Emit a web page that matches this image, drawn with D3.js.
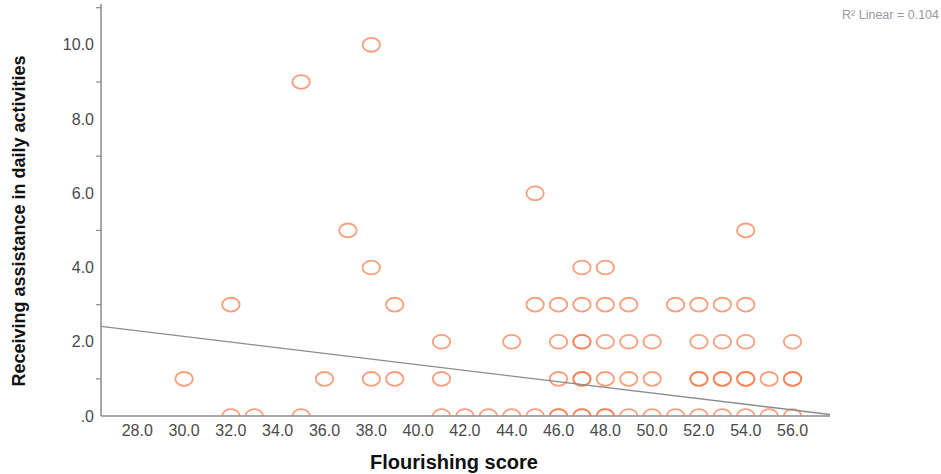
<!DOCTYPE html>
<html>
<head>
<meta charset="utf-8">
<script src="https://cdn.jsdelivr.net/npm/d3@7"></script>
<style>
  body { margin: 0; background: #fff; }
  svg { display: block; font-family: "Liberation Sans", Arial, sans-serif; }
</style>
</head>
<body>
<div id="chart"></div>
<script>
// points (repeated pairs = overlapping cases, they draw darker)
var flourishing = [30, 32, 32, 33, 35, 35, 36, 37, 38, 38, 38, 39, 39,
    41, 41, 41, 42, 43, 44, 44, 45, 45, 45,
    46, 46, 46, 46, 46, 47, 47, 47, 47, 47, 47, 47, 47,
    48, 48, 48, 48, 48, 48, 49, 49, 49, 49, 50, 50, 50,
    51, 51, 52, 52, 52, 52, 52, 53, 53, 53, 53, 53,
    54, 54, 54, 54, 54, 54, 55, 55, 56, 56, 56, 56];
var assistance = [1, 3, 0, 0, 9, 0, 1, 5, 10, 4, 1, 3, 1,
    2, 1, 0, 0, 0, 0, 2, 6, 3, 0,
    3, 2, 1, 0, 0, 4, 3, 2, 2, 1, 1, 0, 0,
    4, 3, 2, 1, 0, 0, 3, 2, 1, 0, 2, 1, 0,
    3, 0, 3, 2, 1, 1, 0, 3, 2, 1, 1, 0,
    5, 3, 2, 1, 1, 0, 1, 0, 2, 1, 1, 0];

var xTicks = [28, 30, 32, 34, 36, 38, 40, 42, 44, 46, 48, 50, 52, 54, 56];
var yTicks = [0, 2, 4, 6, 8, 10];
var yMinor = [1, 3, 5, 7, 9, 11];

// fit line as drawn in the original (y = a + b*x), R2 label
var fitIntercept = 4.43;
var fitSlope = -0.0762;
var r2Label = "R\u00b2 Linear = 0.104";

var WIDTH = 941, HEIGHT = 474;

var svg = d3.select("#chart").append("svg")
    .attr("width", WIDTH)
    .attr("height", HEIGHT);

var x = d3.scaleLinear().domain([26.45, 57.6]).range([101, 830]);
var y = d3.scaleLinear().domain([0, 11.1]).range([416, 4]);

var axisColor = "#8a8a8a";
var labelColor = "#4a4a4a";

// clip so the zero row gets cut by the x axis like in SPSS
svg.append("clipPath").attr("id", "plotclip")
  .append("rect")
    .attr("x", x.range()[0]).attr("y", 0)
    .attr("width", x.range()[1] - x.range()[0] + 10)
    .attr("height", y(0));

// y axis: minor ticks without labels, labels at even values without ticks
var yAxis = svg.append("g").attr("transform", "translate(" + x.range()[0] + ",0)");
yAxis.append("line")
    .attr("x1", 0).attr("x2", 0)
    .attr("y1", y.range()[1]).attr("y2", y(0))
    .attr("stroke", axisColor).attr("stroke-width", 1.5);
yAxis.selectAll(".minor").data(yMinor).enter().append("line")
    .attr("x1", -5).attr("x2", 0)
    .attr("y1", function(d){ return y(d); })
    .attr("y2", function(d){ return y(d); })
    .attr("stroke", axisColor).attr("stroke-width", 1.2);
yAxis.selectAll(".lab").data(yTicks).enter().append("text")
    .attr("x", -7)
    .attr("y", function(d){ return y(d); })
    .attr("dy", "0.35em")
    .attr("text-anchor", "end")
    .attr("font-size", 16)
    .attr("fill", labelColor)
    .text(function(d){ return d === 0 ? ".0" : d.toFixed(1); });

// x axis: line plus labels
var xAxis = svg.append("g").attr("transform", "translate(0," + y(0) + ")");
xAxis.append("line")
    .attr("x1", x.range()[0]).attr("x2", x.range()[1])
    .attr("y1", 0).attr("y2", 0)
    .attr("stroke", axisColor).attr("stroke-width", 1.5);
xAxis.selectAll(".lab").data(xTicks).enter().append("text")
    .attr("x", function(d){ return x(d); })
    .attr("y", 20)
    .attr("text-anchor", "middle")
    .attr("font-size", 16)
    .attr("fill", labelColor)
    .text(function(d){ return d.toFixed(1); });

// points
var pts = d3.range(flourishing.length).map(function(i){
    return {fx: flourishing[i], ay: assistance[i]};
});
svg.append("g").attr("clip-path", "url(#plotclip)")
  .selectAll("ellipse").data(pts).enter().append("ellipse")
    .attr("cx", function(d){ return x(d.fx); })
    .attr("cy", function(d){ return y(d.ay); })
    .attr("rx", 8.7)
    .attr("ry", 6.9)
    .attr("fill", "none")
    .attr("stroke", "#f47a4c")
    .attr("stroke-opacity", 0.72)
    .attr("stroke-width", 1.8);

// regression line
var xd = x.domain();
svg.append("line")
    .attr("x1", x(xd[0])).attr("y1", y(fitIntercept + fitSlope * xd[0]))
    .attr("x2", x(xd[1])).attr("y2", y(fitIntercept + fitSlope * xd[1]))
    .attr("stroke", "#8c8c8c")
    .attr("stroke-width", 1.3);

// titles
svg.append("text")
    .attr("x", 454).attr("y", 469)
    .attr("text-anchor", "middle")
    .attr("font-size", 20)
    .attr("font-weight", "bold")
    .attr("fill", "#111")
    .text("Flourishing score");

svg.append("text")
    .attr("transform", "translate(25,221) rotate(-90)")
    .attr("text-anchor", "middle")
    .attr("font-size", 18)
    .attr("font-weight", "bold")
    .attr("fill", "#111")
    .text("Receiving assistance in daily activities");

svg.append("text")
    .attr("x", 939).attr("y", 19)
    .attr("text-anchor", "end")
    .attr("font-size", 12.5)
    .attr("fill", "#999")
    .text(r2Label);
</script>
</body>
</html>
